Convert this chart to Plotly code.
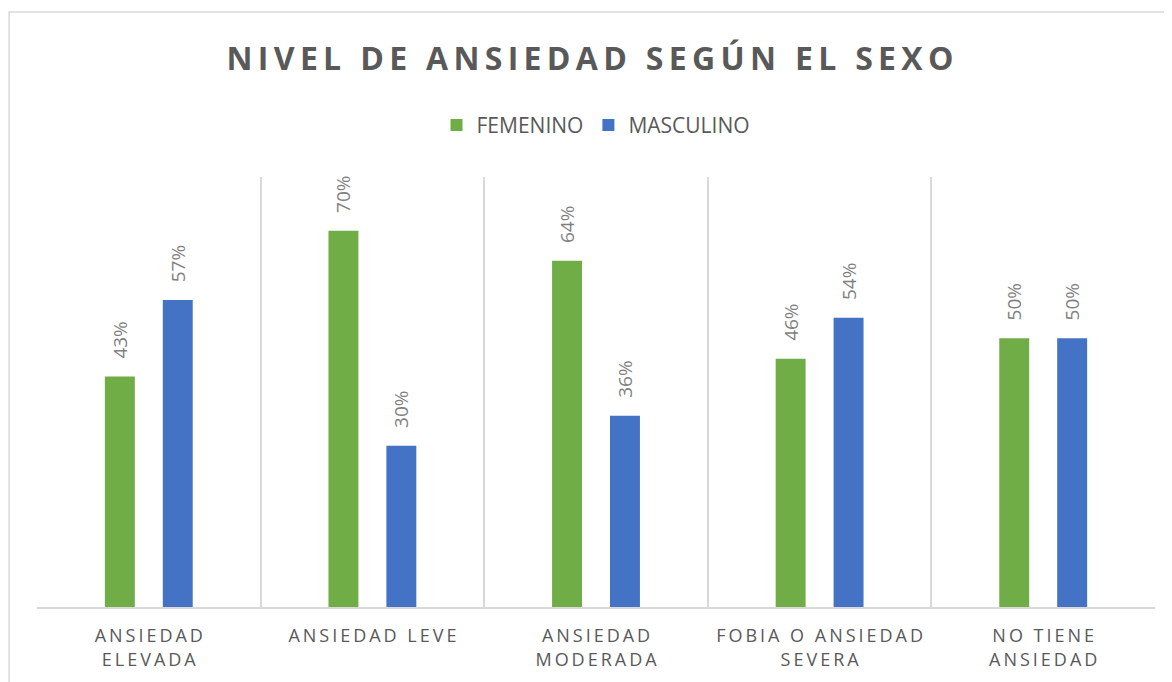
import plotly.graph_objects as go

# data
categories = ["ANSIEDAD ELEVADA", "ANSIEDAD LEVE", "ANSIEDAD MODERADA",
              "FOBIA O ANSIEDAD SEVERA", "NO TIENE ANSIEDAD"]
tick_labels = ["ANSIEDAD<br>ELEVADA", "ANSIEDAD LEVE", "ANSIEDAD<br>MODERADA",
               "FOBIA O ANSIEDAD<br>SEVERA", "NO TIENE<br>ANSIEDAD"]
femenino = [0.429, 0.700, 0.644, 0.462, 0.500]
masculino = [0.571, 0.300, 0.356, 0.538, 0.500]

GREEN = "#70ad47"
BLUE = "#4472c4"
GRID = "#d9d9d9"
THIN = "\u2009"
NB = "\u00a0"


def spaced(s):
    # mimic Excel's character spacing
    out = []
    for line in s.split("<br>"):
        out.append(THIN.join(list(line)).replace(THIN + " " + THIN, THIN + NB + THIN))
    return "<br>".join(out)


fig = go.Figure()
for name, vals, col in [("FEMENINO", femenino, GREEN), ("MASCULINO", masculino, BLUE)]:
    fig.add_trace(go.Bar(
        x=categories, y=vals, name=name,
        marker=dict(color=col, line=dict(width=0)),
        text=[NB * 3 + f"{v:.0%}" for v in vals],
        textposition="outside", textangle=-90, constraintext="none",
        textfont=dict(family="Open Sans", size=19, color="#7f7f7f"),
        cliponaxis=False,
    ))

# page body adds an 8px margin, so the figure is a bit smaller than the window
fig.update_layout(
    width=1164, height=674,
    margin=dict(l=29, r=17, t=169, b=75, autoexpand=False),
    paper_bgcolor="white", plot_bgcolor="white",
    barmode="group", bargap=0.482, bargroupgap=0.483,
    title=dict(text="<b>" + spaced("NIVEL DE ANSIEDAD SEGÚN EL SEXO") + "</b>",
               x=0.5, xanchor="center", y=0.925, yanchor="middle",
               font=dict(family="Open Sans", size=32, color="#595959")),
    legend=dict(orientation="h", x=0.5, xanchor="center", y=1.12, yanchor="middle",
                font=dict(family="Open Sans", size=21, color="#595959"),
                itemwidth=30, traceorder="normal"),
    showlegend=True,
    xaxis=dict(
        automargin=False,
        tickmode="array", tickvals=categories,
        ticktext=[spaced(t) for t in tick_labels],
        tickson="boundaries", ticks="", showgrid=True, gridcolor=GRID, gridwidth=1.5,
        showline=True, linecolor=GRID, linewidth=1.5,
        ticklabelstandoff=12,
        tickfont=dict(family="Open Sans", size=18, color="#595959"),
    ),
    yaxis=dict(range=[0, 0.8], visible=False, showgrid=False, zeroline=False,
               automargin=False),
    shapes=[dict(type="rect", xref="paper", yref="paper",
                 x0=-0.025, x1=1.03, y0=-0.2, y1=1.384,
                 line=dict(color=GRID, width=1.5), layer="below")],
)

fig.write_html("out.html")
